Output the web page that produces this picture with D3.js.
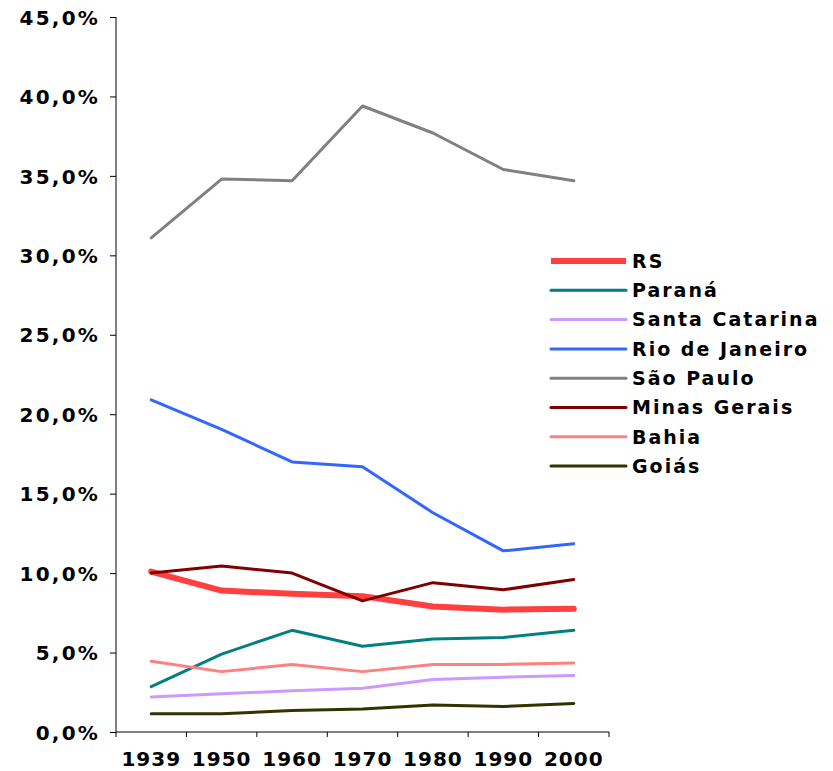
<!DOCTYPE html>
<html>
<head>
<meta charset="utf-8">
<script src="https://cdn.jsdelivr.net/npm/d3@7"></script>
<style>
    body { margin: 0; background: #fff; }
    text { font-family: "DejaVu Sans", Verdana, sans-serif; font-weight: bold; fill: #000; }
</style>
</head>
<body>
<svg id="chart" width="833" height="771"></svg>
<script>
    // data
    var years = ["1939", "1950", "1960", "1970", "1980", "1990", "2000"];
    var yTicks = [0, 5, 10, 15, 20, 25, 30, 35, 40, 45];

    var rs            = [10.1, 8.9, 8.7, 8.55, 7.9, 7.7, 7.75];
    var parana        = [2.85, 4.9, 6.4, 5.4, 5.85, 5.95, 6.4];
    var santaCatarina = [2.2, 2.4, 2.6, 2.75, 3.3, 3.45, 3.55];
    var rioDeJaneiro  = [20.9, 19.05, 17.0, 16.7, 13.8, 11.4, 11.85];
    var saoPaulo      = [31.1, 34.8, 34.7, 39.4, 37.7, 35.4, 34.7];
    var minasGerais   = [10.0, 10.45, 10.0, 8.25, 9.4, 8.95, 9.6];
    var bahia         = [4.45, 3.8, 4.25, 3.8, 4.25, 4.25, 4.35];
    var goias         = [1.15, 1.15, 1.35, 1.45, 1.7, 1.6, 1.8];

    var series = [
        {name: "RS", values: rs, color: "#ff4040", width: 6},
        {name: "Paraná", values: parana, color: "#008080", width: 3},
        {name: "Santa Catarina", values: santaCatarina, color: "#cc99ff", width: 3},
        {name: "Rio de Janeiro", values: rioDeJaneiro, color: "#3366ff", width: 3},
        {name: "São Paulo", values: saoPaulo, color: "#808080", width: 3},
        {name: "Minas Gerais", values: minasGerais, color: "#800000", width: 3},
        {name: "Bahia", values: bahia, color: "#ff8080", width: 3},
        {name: "Goiás", values: goias, color: "#333300", width: 3}
    ];

    var margin = {top: 17, left: 116};
    var width = 493, height = 715;

    var svg = d3.select("#chart");
    var chart = svg.append("g")
        .attr("transform", "translate(" + margin.left + "," + margin.top + ")");

    var x = d3.scaleBand().domain(years).range([0, width]);
    var y = d3.scaleLinear().domain([0, 45]).range([height, 0]);

    // y axis
    var yAxis = d3.axisLeft(y)
        .tickValues(yTicks)
        .tickSize(6)
        .tickPadding(10)
        .tickFormat(function(d){ return d.toFixed(1).replace(".", ",") + "%"; });
    var gy = chart.append("g").call(yAxis);
    gy.selectAll("text")
        .style("font-size", "20px")
        .style("letter-spacing", "2.2px")
        .attr("dy", "0.36em");

    // x axis: ticks sit between categories
    var xAxis = d3.axisBottom(x).tickSize(0).tickPadding(20);
    var gx = chart.append("g")
        .attr("transform", "translate(0," + height + ")")
        .call(xAxis);
    gx.selectAll("text")
        .style("font-size", "20px")
        .style("letter-spacing", "1px");
    gx.select(".domain").attr("d", "M0,0H" + width);
    gx.selectAll(".sep")
        .data(d3.range(years.length + 1))
        .enter()
        .append("line")
        .attr("x1", function(i){ return i * x.step(); })
        .attr("x2", function(i){ return i * x.step(); })
        .attr("y1", 0)
        .attr("y2", 5)
        .attr("stroke", "#000");
    gy.select(".domain").attr("d", "M0,0V" + height);

    var line = d3.line()
        .x(function(d, i){ return x(years[i]) + x.bandwidth() / 2; })
        .y(function(d){ return y(d); });

    chart.selectAll(".series")
        .data(series)
        .enter()
        .append("path")
        .classed("series", true)
        .attr("d", function(d){ return line(d.values); })
        .attr("fill", "none")
        .attr("stroke", function(d){ return d.color; })
        .attr("stroke-width", function(d){ return d.width; })
        .attr("stroke-linejoin", "round")
        .attr("stroke-linecap", "round");

    // legend
    var legend = svg.append("g").attr("transform", "translate(550,261)");
    var item = legend.selectAll(".item")
        .data(series)
        .enter()
        .append("g")
        .attr("transform", function(d, i){ return "translate(0," + (i * 29.3) + ")"; });
    item.append("line")
        .attr("x1", 1).attr("x2", 76)
        .attr("stroke", function(d){ return d.color; })
        .attr("stroke-width", function(d){ return d.name === "RS" ? 6 : 3; })
        .attr("stroke-linecap", function(d){ return d.name === "RS" ? "butt" : "round"; });
    item.append("text")
        .attr("x", 82)
        .attr("dy", "0.36em")
        .style("font-size", "19px")
        .style("letter-spacing", "2px")
        .text(function(d){ return d.name; });
</script>
</body>
</html>
